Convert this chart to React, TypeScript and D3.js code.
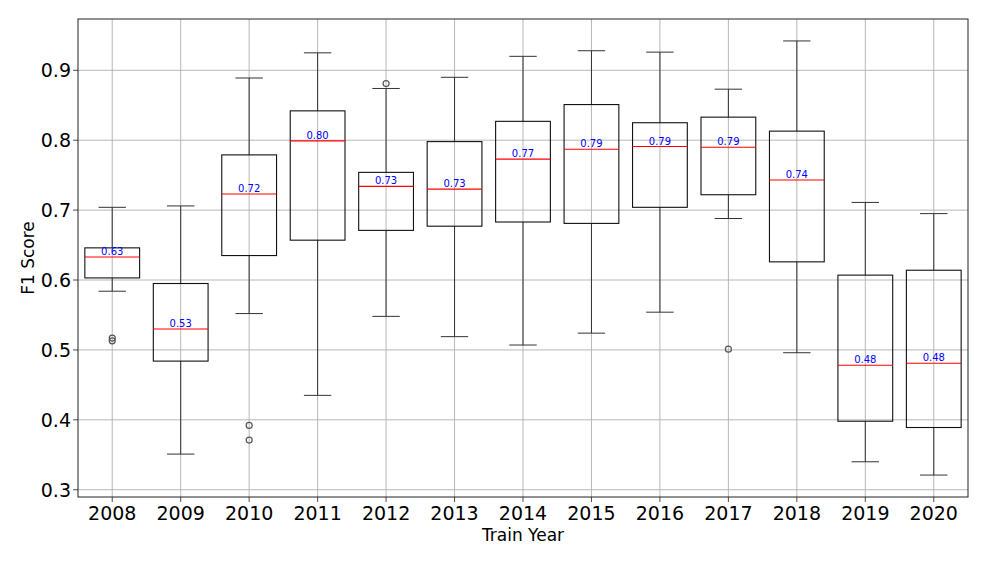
import React from "react";
import * as d3 from "d3";

const years = ["2008","2009","2010","2011","2012","2013","2014","2015","2016","2017","2018","2019","2020"];
const whiskerHigh = [0.704,0.706,0.889,0.925,0.874,0.890,0.920,0.928,0.926,0.873,0.942,0.711,0.695];
const q3 = [0.646,0.595,0.779,0.842,0.754,0.798,0.827,0.851,0.825,0.833,0.813,0.607,0.614];
const medians = [0.633,0.530,0.723,0.799,0.734,0.730,0.773,0.787,0.791,0.790,0.743,0.478,0.481];
const q1 = [0.603,0.484,0.635,0.657,0.671,0.677,0.683,0.681,0.704,0.722,0.626,0.398,0.389];
const whiskerLow = [0.584,0.351,0.552,0.435,0.548,0.519,0.507,0.524,0.554,0.688,0.496,0.340,0.321];
const outliers: number[][] = [[0.517,0.513],[],[0.392,0.371],[],[0.881],[],[],[],[],[0.501],[],[],[]];
const yTicks = [0.3,0.4,0.5,0.6,0.7,0.8,0.9];

const W = 987, H = 564;
const M = { left: 78, right: 968, top: 19, bottom: 497 };
const FONT = "DejaVu Sans, sans-serif";

export default function App() {
  const x = d3.scaleLinear().domain([0.5, years.length + 0.5]).range([M.left, M.right]);
  const y = d3.scaleLinear().domain([0.2896, 0.9734]).range([M.bottom, M.top]);
  const unit = x(2) - x(1);
  const bw = unit * 0.8;
  const cw = bw / 2;
  return (
    <svg width={W} height={H} style={{ position: "absolute", left: 0, top: 0, background: "#fff" }} fontFamily={FONT}>
      {/* grid */}
      {years.map((_, i) => (
        <line key={"gx" + i} x1={x(i + 1)} x2={x(i + 1)} y1={M.top} y2={M.bottom} stroke="#b0b0b0" strokeWidth={0.9} />
      ))}
      {yTicks.map((t) => (
        <line key={"gy" + t} x1={M.left} x2={M.right} y1={y(t)} y2={y(t)} stroke="#b0b0b0" strokeWidth={0.9} />
      ))}
      {/* boxes */}
      {years.map((yr, i) => {
        const cx = x(i + 1);
        return (
          <g key={yr}>
            <line x1={cx} x2={cx} y1={y(q3[i])} y2={y(whiskerHigh[i])} stroke="#333" strokeWidth={1} />
            <line x1={cx} x2={cx} y1={y(q1[i])} y2={y(whiskerLow[i])} stroke="#333" strokeWidth={1} />
            <line x1={cx - cw / 2} x2={cx + cw / 2} y1={y(whiskerHigh[i])} y2={y(whiskerHigh[i])} stroke="#333" strokeWidth={1} />
            <line x1={cx - cw / 2} x2={cx + cw / 2} y1={y(whiskerLow[i])} y2={y(whiskerLow[i])} stroke="#333" strokeWidth={1} />
            <rect x={cx - bw / 2} y={y(q3[i])} width={bw} height={y(q1[i]) - y(q3[i])} fill="none" stroke="#111" strokeWidth={1.1} />
            <line x1={cx - bw / 2} x2={cx + bw / 2} y1={y(medians[i])} y2={y(medians[i])} stroke="red" strokeWidth={1.1} />
            {outliers[i].map((o, j) => (
              <circle key={j} cx={cx} cy={y(o)} r={3} fill="none" stroke="#555" strokeWidth={1.2} />
            ))}
            <text x={cx} y={y(medians[i]) - 2} textAnchor="middle" fontSize={10} fill="blue">
              {d3.format(".2f")(medians[i])}
            </text>
          </g>
        );
      })}
      {/* frame */}
      <rect x={M.left} y={M.top} width={M.right - M.left} height={M.bottom - M.top} fill="none" stroke="#222" strokeWidth={1} />
      {/* y ticks */}
      {yTicks.map((t) => (
        <g key={"ty" + t}>
          <line x1={M.left - 5} x2={M.left} y1={y(t)} y2={y(t)} stroke="#222" strokeWidth={0.8} />
          <text x={71} y={y(t)} dy="0.36em" textAnchor="end" fontSize={19} fill="#000">{d3.format(".1f")(t)}</text>
        </g>
      ))}
      {/* x ticks */}
      {years.map((yr, i) => (
        <g key={"tx" + yr}>
          <line x1={x(i + 1)} x2={x(i + 1)} y1={M.bottom} y2={M.bottom + 5} stroke="#222" strokeWidth={0.8} />
          <text x={x(i + 1)} y={520} textAnchor="middle" fontSize={19} fill="#000">{yr}</text>
        </g>
      ))}
      <text x={(M.left + M.right) / 2} y={541} textAnchor="middle" fontSize={17} fill="#000">Train Year</text>
      <text transform={`translate(33.5,${(M.top + M.bottom) / 2}) rotate(-90)`} textAnchor="middle" fontSize={17} fill="#000">F1 Score</text>
    </svg>
  );
}
